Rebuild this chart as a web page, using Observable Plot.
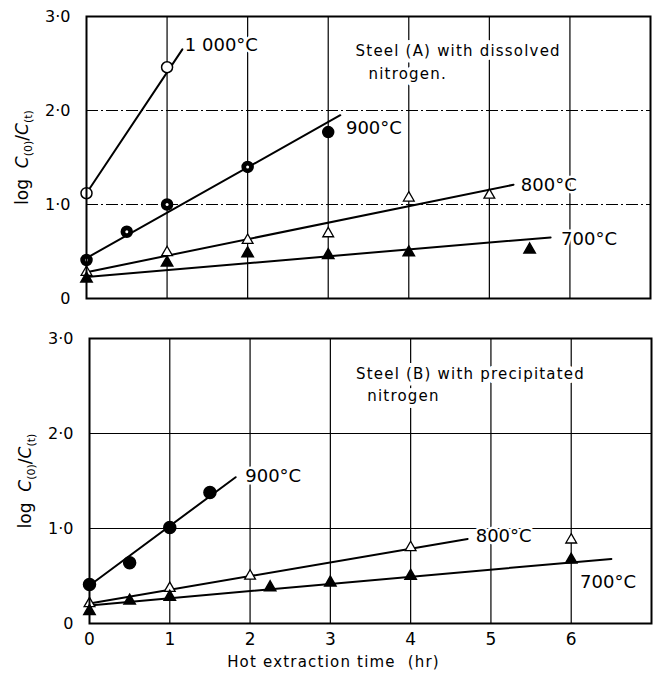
<!DOCTYPE html>
<html><head><meta charset="utf-8">
<script src="https://cdn.jsdelivr.net/npm/d3@7"></script>
<script src="https://cdn.jsdelivr.net/npm/@observablehq/plot@0.6"></script>
<style>
body{margin:0;background:#fff;}
#chart svg{display:block;}
</style></head><body><div id="chart"></div>
<script>
// ---------- tick values / labels ----------
const yTicks = [0, 1, 2, 3];
const yTickLabels = ["0", "1·0", "2·0", "3·0"];
const xTicks = [0, 1, 2, 3, 4, 5, 6];
const xTickLabels = ["0", "1", "2", "3", "4", "5", "6"];
const xGrid = [1, 2, 3, 4, 5, 6];
const yGrid = [1, 2];

// ---------- Steel (A): measured points ----------
const a1000 = [{t: 0, v: 1.12}, {t: 1, v: 2.46}];
const a900  = [{t: 0, v: 0.41}, {t: 0.5, v: 0.71}, {t: 1, v: 1.0}, {t: 2, v: 1.40}, {t: 3, v: 1.77}];
const a800  = [{t: 0, v: 0.28}, {t: 1, v: 0.49}, {t: 2, v: 0.62}, {t: 3, v: 0.69}, {t: 4, v: 1.07}, {t: 5, v: 1.10}];
const a700  = [{t: 0, v: 0.21}, {t: 1, v: 0.38}, {t: 2, v: 0.48}, {t: 3, v: 0.46}, {t: 4, v: 0.49}, {t: 5.5, v: 0.52}];
// Steel (A): fitted lines
const a1000Fit = [{t: 0, v: 1.12}, {t: 1.19, v: 2.65}];
const a900Fit  = [{t: 0, v: 0.43}, {t: 3.15, v: 1.95}];
const a800Fit  = [{t: 0, v: 0.28}, {t: 5.3, v: 1.21}];
const a700Fit  = [{t: 0, v: 0.23}, {t: 5.76, v: 0.65}];

// ---------- Steel (B): measured points ----------
const b900 = [{t: 0, v: 0.41}, {t: 0.5, v: 0.64}, {t: 1, v: 1.01}, {t: 1.5, v: 1.38}];
const b800 = [{t: 0, v: 0.21}, {t: 1, v: 0.37}, {t: 2, v: 0.50}, {t: 4, v: 0.80}, {t: 6, v: 0.88}];
const b700 = [{t: 0, v: 0.13}, {t: 0.5, v: 0.24}, {t: 1, v: 0.28}, {t: 2.25, v: 0.38}, {t: 3, v: 0.43}, {t: 4, v: 0.50}, {t: 6, v: 0.67}];
// Steel (B): fitted lines
const b900Fit = [{t: 0, v: 0.40}, {t: 1.82, v: 1.54}];
const b800Fit = [{t: 0, v: 0.21}, {t: 4.71, v: 0.89}];
const b700Fit = [{t: 0, v: 0.19}, {t: 6.5, v: 0.68}];

// ---------- labels ----------
const aTempLabels = [
  {t: 1.22, v: 2.69, text: "1 000°C"},
  {t: 3.22, v: 1.81, text: "900°C"},
  {t: 5.39, v: 1.20, text: "800°C"},
  {t: 5.89, v: 0.63, text: "700°C"}
];
const aNotes = [
  {t: 3.34, v: 2.63, text: "Steel (A) with dissolved"},
  {t: 3.50, v: 2.39, text: "nitrogen."}
];
const bTempLabels = [
  {t: 1.94, v: 1.55, text: "900°C"},
  {t: 4.81, v: 0.92, text: "800°C"},
  {t: 6.11, v: 0.43, text: "700°C"}
];
const bNotes = [
  {t: 3.32, v: 2.62, text: "Steel (B) with precipitated"},
  {t: 3.46, v: 2.39, text: "nitrogen"}
];
const yTitle = "log C(0)/C(t)";
const xTitle = "Hot extraction time  (hr)";

const FONT = "DejaVu Sans, sans-serif";
const lbl = d => yTickLabels[yTicks.indexOf(d)];

function lineMarks(fits) {
  return fits.map(f => Plot.line(f, {x: "t", y: "v", stroke: "black", strokeWidth: 2}));
}
function openCircle(data) { return Plot.dot(data, {x: "t", y: "v", r: 5.5, fill: "white", stroke: "black", strokeWidth: 1.5}); }
function filledCircle(data, r = 5.5) { return Plot.dot(data, {x: "t", y: "v", r, fill: "black", stroke: "black"}); }
function openTri(data) { return Plot.dot(data, {x: "t", y: "v", symbol: "triangle", r: 4, fill: "white", stroke: "black", strokeWidth: 1.3}); }
function filledTri(data) { return Plot.dot(data, {x: "t", y: "v", symbol: "triangle", r: 4.2, fill: "black", stroke: "black"}); }
function tempText(data) {
  return Plot.text(data, {x: "t", y: "v", text: "text", textAnchor: "start", fontSize: 18, fill: "black",
    stroke: "white", strokeWidth: 5, paintOrder: "stroke"});
}
function noteText(data) {
  return Plot.text(data, {x: "t", y: "v", text: "text", textAnchor: "start", fontSize: 15, fill: "black",
    stroke: "white", strokeWidth: 8, paintOrder: "stroke", className: "note"});
}

const common = {
  width: 663,
  style: {fontFamily: FONT, color: "black", background: "white"},
  x: {domain: [0, 7], axis: null},
  y: {domain: [0, 3], axis: null}
};

// ---------- top panel ----------
const topPanel = Plot.plot({
  ...common,
  height: 310, marginTop: 16, marginBottom: 12, marginLeft: 86, marginRight: 13,
  marks: [
    Plot.gridX(xGrid, {stroke: "black", strokeOpacity: 1, strokeWidth: 1.2}),
    Plot.gridY(yGrid, {stroke: "black", strokeOpacity: 1, strokeWidth: 1.2, strokeDasharray: "12,3,2,3"}),
    noteText(aNotes),
    ...lineMarks([a1000Fit, a900Fit, a800Fit, a700Fit]),
    openCircle(a1000),
    filledCircle(a900),
    Plot.dot(a900, {filter: (d, i) => i < 4, x: "t", y: "v", r: 1.5, fill: "white"}),
    openTri(a800),
    filledTri(a700),
    tempText(aTempLabels),
    Plot.axisY(yTicks, {tickSize: 0, tickPadding: 16, fontSize: 16, tickFormat: lbl, label: null}),
    Plot.text([yTitle], {frameAnchor: "left", dx: -64, rotate: -90, fontSize: 17, textAnchor: "middle", className: "ytitle"}),
    Plot.frame({stroke: "black", strokeWidth: 2})
  ]
});

// ---------- bottom panel ----------
const bottomPanel = Plot.plot({
  ...common,
  height: 372, marginTop: 28, marginBottom: 59, marginLeft: 89, marginRight: 12,
  marks: [
    Plot.gridX(xGrid, {stroke: "black", strokeOpacity: 1, strokeWidth: 1.2}),
    Plot.gridY(yGrid, {stroke: "black", strokeOpacity: 1, strokeWidth: 1.2}),
    noteText(bNotes),
    ...lineMarks([b900Fit, b800Fit, b700Fit]),
    filledCircle(b900, 6),
    openTri(b800),
    filledTri(b700),
    tempText(bTempLabels),
    Plot.axisY(yTicks, {tickSize: 0, tickPadding: 16, fontSize: 16, tickFormat: lbl, label: null}),
    Plot.axisX(xTicks, {tickSize: 0, tickPadding: 9, fontSize: 17, tickFormat: d => xTickLabels[xTicks.indexOf(d)], label: null}),
    Plot.text([yTitle], {frameAnchor: "left", dx: -64, rotate: -90, fontSize: 17, textAnchor: "middle", className: "ytitle"}),
    Plot.text([xTitle], {frameAnchor: "bottom", dx: -37, dy: 43, fontSize: 15, className: "xtitle"}),
    Plot.frame({stroke: "black", strokeWidth: 2})
  ]
});

const host = document.getElementById("chart");
host.append(topPanel, bottomPanel);

// axis titles: italic C with subscripts
d3.selectAll(".ytitle text").each(function () {
  const t = d3.select(this);
  t.text(null);
  t.append("tspan").text("log  ");
  t.append("tspan").attr("font-style", "italic").text("C");
  t.append("tspan").attr("font-size", "11").attr("dy", "4").text("(0)");
  t.append("tspan").attr("dy", "-4").text("/");
  t.append("tspan").attr("font-style", "italic").text("C");
  t.append("tspan").attr("font-size", "11").attr("dy", "4").text("(t)");
});
d3.selectAll(".xtitle text").style("letter-spacing", "1.2px");
d3.selectAll(".note text").style("letter-spacing", "1.2px");
</script></body></html>
